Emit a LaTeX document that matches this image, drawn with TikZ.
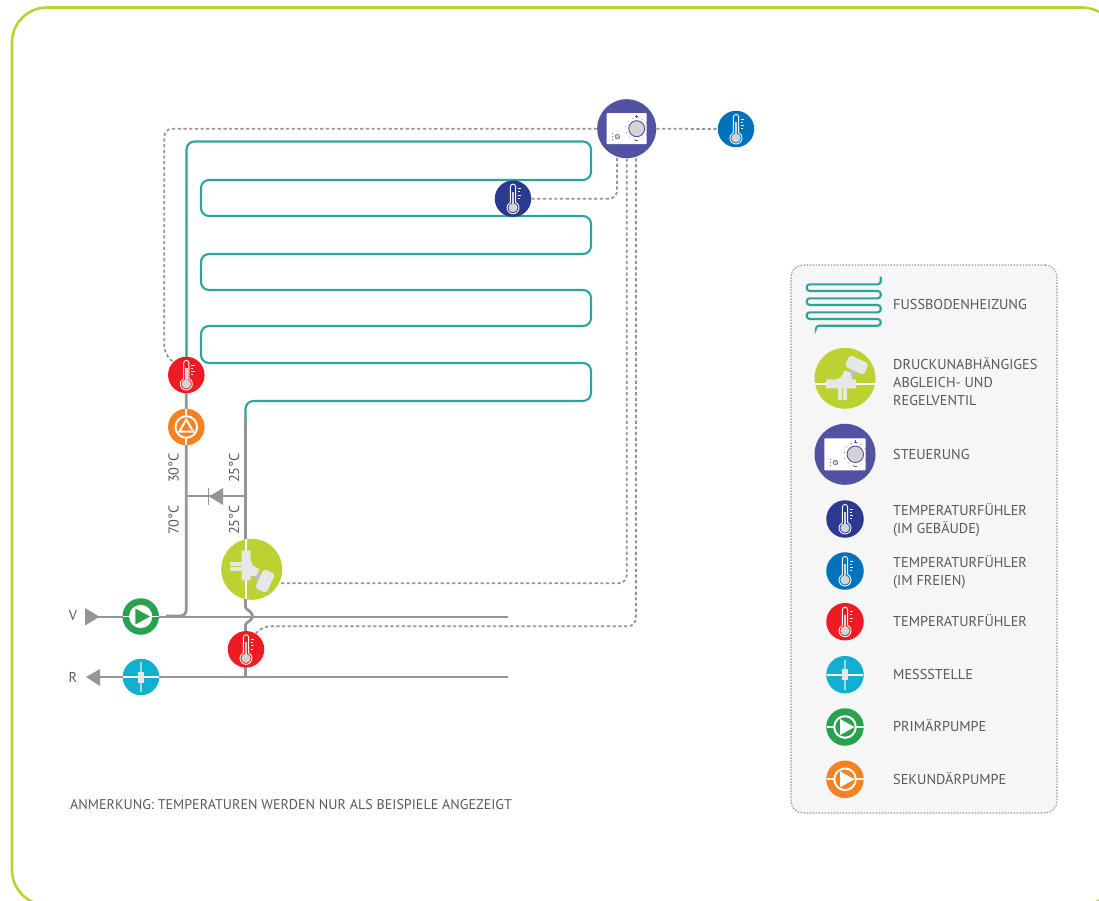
\documentclass[tikz,border=0pt]{standalone}
\usepackage{fontspec}
\setmainfont{PT Sans}
\definecolor{frameC}{HTML}{BDD232}
\definecolor{teal2}{HTML}{2BA59C}
\definecolor{pipeC}{HTML}{939598}
\definecolor{txtC}{HTML}{58595B}
\definecolor{ctrlC}{HTML}{5152A2}
\definecolor{inC}{HTML}{2B3990}
\definecolor{outC}{HTML}{0072BC}
\definecolor{redC}{HTML}{ED1C24}
\definecolor{messC}{HTML}{12B0D0}
\definecolor{greenC}{HTML}{2AA14C}
\definecolor{orangeC}{HTML}{F58220}
\definecolor{lgtC}{HTML}{E6E7E8}
\definecolor{midC}{HTML}{BCBEC0}
\definecolor{knobC}{HTML}{D1D3D4}
\tikzset{
  disc/.style={circle,inner sep=0pt,minimum size=#1,draw=none},
  pipe/.style={draw=pipeC,line width=2.8pt},
  heat/.style={draw=teal2,line width=2.1pt,rounded corners=8pt},
  sig/.style={draw=pipeC,line width=1.8pt,dash pattern=on 3.2pt off 2.5pt,rounded corners=8pt},
  lab/.style={text=txtC,font=\fontsize{14.3}{18}\selectfont,inner sep=0pt},
  legtxt/.style={lab,anchor=west,align=left},
  pics/thermo/.style={code={
    \draw[white,line width=.9pt,fill=#1] (-2.6,3.6) -- (-2.6,-12) arc[start angle=180,end angle=360,radius=2.6] -- (2.6,3.6) arc[start angle=-64.3,end angle=244.3,radius=6] -- cycle;
    \fill[knobC] (0,9) circle[radius=4.6];
    \fill[knobC] (-1.3,-7) rectangle (1.3,8);
    \foreach \yy/\xx in {-10/8.2,-7/7,-3.6/8.2,-0.3/7}{\draw[white,line width=.8pt] (5,\yy) -- (\xx,\yy);}
  }},
  pics/pump/.style={code={
    \draw[white,line width=2pt] (0,0) circle[radius=10.8];
    \draw[white,line width=1.8pt] (-18.5,0) -- (-10.5,0) (10.5,0) -- (18.5,0);
    \fill[white] (-5,-8) -- (9.5,0) -- (-5,8) -- cycle;
  }},
  pics/pumpm/.style={code={
    \fill[white] (0,0) circle[radius=11.6];
    \draw[white,line width=1.8pt] (-18,0) -- (18,0);
    \fill[#1] (-5.3,-8) -- (9.3,0) -- (-5.3,8) -- cycle;
  }},
  pics/pumpo/.style={code={
    \draw[white,line width=2pt] (0,0) circle[radius=10.8];
    \draw[white,line width=1.8pt] (-18,0) -- (-10.5,0) (10.5,0) -- (18,0);
    \fill[white] (-5.5,-8.6) -- (9.5,0) -- (-5.5,8.6) -- cycle;
    \fill[#1] (-3.6,-5) -- (5.4,0) -- (-3.6,5) -- cycle;
  }},
  pics/mess/.style={code={
    \draw[white,line width=1.8pt] (-18,0) -- (18,0);
    \draw[lgtC!70!messC,line width=1.5pt] (0,-15) -- (0,15);
    \fill[lgtC] (-2.6,-5.5) rectangle (2.6,5.5);
  }},
  pics/ctrlbox/.style={code={
    \fill[white,rounded corners=.6pt] (-20,-15.5) rectangle (20,15.5);
    \draw[ctrlC,line width=.9pt,fill=knobC] (10,0) circle[radius=8];
    \foreach \a in {100,130,160,190,220,250,280,-30,-60,30,60}{\fill[ctrlC] (\a:11) ++(10,0) circle[radius=.5];}
    \draw[ctrlC,line width=.6pt] (8.5,-12) -- (11.5,-12) (10,-13.5) -- (10,-10.5) (8.5,12) -- (11.5,12);
    \draw[ctrlC,line width=.5pt,fill=knobC] (-9.3,8) circle[radius=2.3];
    \foreach \yy in {5,8,11}{\fill[ctrlC] (-14,\yy) circle[radius=.6];}
  }},
  pics/valveparts/.style={code={
    \draw[white,line width=1.8pt] (-30,5.7) -- (30,5.7);
    \fill[midC] (-3.5,0) -- (10,-14) -- (15,-9) -- (2,4) -- cycle;
    \fill[lgtC] (-4,-1) -- (0,-8) -- (6,-5) -- (7,1) -- (11,1) -- (11,10) -- (-19,10) -- (-19,1) -- (-9,1) -- cycle;
    \fill[lgtC] (-7,10) rectangle (-3,21.5);
    \fill[lgtC] (-2,10) rectangle (2,21.5);
    \begin{scope}[shift={(11.7,-13.3)},rotate=-25]
      \fill[lgtC,rounded corners=3pt] (-10.5,-6.3) rectangle (10.5,6.3);
    \end{scope}
  }}
}
\begin{document}
\begin{tikzpicture}[x=1pt,y=-1pt]
\useasboundingbox (0,0) rectangle (1099,901);
% frame
\begin{scope}
  \clip (0,0) rectangle (1099,901);
  \draw[frameC,line width=2.6pt,rounded corners=35pt] (12,7.5) rectangle (1117,905);
\end{scope}
% legend panel
\node[draw=pipeC,fill=black!3.5,line width=1.1pt,dash pattern=on 1.5pt off 1.5pt,rounded corners=12pt,minimum width=266pt,minimum height=548pt,inner sep=0pt] (legend) at (924,539) {};

% heating coil
\coordinate (coilstart) at (186.5,360);
\coordinate (coilend) at (245.5,418);
\draw[heat] (coilstart) -- (186.5,141.5) -- (591,141.5) -- (591,180) -- (201,180) -- (201,216) -- (591,216) -- (591,254) -- (201,254) -- (201,290) -- (591,290) -- (591,326) -- (201,326) -- (201,363) -- (591,363) -- (591,401) -- (245.5,401) -- (coilend);
% pipes
\coordinate (sup) at (90,617);
\coordinate (supend) at (507.5,617);
\coordinate (ret) at (90,677);
\coordinate (retend) at (507.5,677);
\draw[pipe] (sup) -- (supend);
\draw[pipe] (ret) -- (retend);
\draw[pipe,rounded corners=6pt] (186.3,380) -- (186.3,616) -- (166,616);
\draw[pipe] (coilend) -- (245.5,608);
\draw[pipe] (245.5,607) .. controls (245.5,610) and (252.5,611) .. (252.5,616) .. controls (252.5,621) and (245.5,622) .. (245.5,625) -- (245.5,677);
\draw[pipe] (186.3,496) -- (245.5,496);
% non-return valve
\fill[pipeC] (209,496.5) -- (223,488) -- (223,505) -- cycle;
\draw[pipeC,line width=1.8pt] (208.5,488) -- (208.5,505);
% arrow ends
\fill[pipeC] (85,608) -- (99.5,616.8) -- (85,625.5) -- cycle;
\fill[pipeC] (86,677) -- (100,669) -- (100,686) -- cycle;

% circles in the plan
\node[disc=59pt,fill=ctrlC] (ctrl) at (626.7,128.7) {};
\pic at (ctrl) {ctrlbox};
\node[disc=36.5pt,fill=outC] (outs) at (736,129) {};
\pic at (outs) {thermo=outC};
\node[disc=36.5pt,fill=inC] (ins) at (513,198.7) {};
\pic at (ins) {thermo=inC};
\node[disc=36.5pt,fill=redC] (rs1) at (186.3,375) {};
\pic at (rs1) {thermo=redC};
\node[disc=36.5pt,fill=redC] (rs2) at (246,649.3) {};
\pic at (rs2) {thermo=redC};
\node[disc=36.5pt,fill=orangeC] (sec) at (186.3,427) {};
\pic[rotate=90] at (sec) {pumpo=orangeC};
\node[disc=36.5pt,fill=greenC] (pri) at (140.7,616.5) {};
\pic at (pri) {pumpm=greenC};
\node[disc=36.5pt,fill=messC] (msp) at (141,677) {};
\pic at (msp) {mess};
\node[disc=61pt,fill=frameC] (valve) at (251.7,569.3) {};
\pic[rotate=-90] at (valve) {valveparts};

% signal lines
\draw[sig] (ctrl.west) -- (164.3,128.7) -- (164.3,354) -- (rs1.135);
\draw[sig] (ctrl.east) -- (outs.west);
\draw[sig] (ins.east) -| (ctrl.-109);
\draw[sig] ([xshift=2pt]valve.-27) -| (ctrl.south);
\draw[sig] (rs2.58) -- (262,626.3) -| (ctrl.-72);

% labels in the plan
\node[lab,rotate=90] (t30) at (173.5,468) {30°C};
\node[lab,rotate=90] (t70) at (173.5,520) {70°C};
\node[lab,rotate=90] (t25a) at (234,468) {25°C};
\node[lab,rotate=90] (t25b) at (234,520) {25°C};
\node[lab] (lv) at (73,616) {V};
\node[lab] (lr) at (73,677) {R};
\node[lab,anchor=west,font=\fontsize{14.1}{18}\selectfont] (note) at (70,805) {ANMERKUNG: TEMPERATUREN WERDEN NUR ALS BEISPIELE ANGEZEIGT};

% legend symbols
\coordinate (lgcoil) at (880.7,276.7);
\draw[heat,rounded corners=3pt] (lgcoil) -- (880.7,284.3) -- (806.7,284.3) -- (806.7,291) -- (880.7,291) -- (880.7,298.3) -- (806.7,298.3) -- (806.7,305) -- (880.7,305) -- (880.7,312.3) -- (806.7,312.3) -- (806.7,319) -- (880.7,319) -- (880.7,325.7) -- (816,325.7) -- (816,328.5);
\node[disc=61pt,fill=frameC] (lgv) at (845,378.3) {};
\pic at (lgv) {valveparts};
\node[disc=61pt,fill=ctrlC] (lgc) at (845,454.3) {};
\pic[scale=1.03] at (lgc) {ctrlbox};
\node[disc=37.5pt,fill=inC] (lgi) at (845,519) {};
\pic at (lgi) {thermo=inC};
\node[disc=37.5pt,fill=outC] (lgo) at (845,571) {};
\pic at (lgo) {thermo=outC};
\node[disc=37.5pt,fill=redC] (lgr) at (845,621.7) {};
\pic at (lgr) {thermo=redC};
\node[disc=37.5pt,fill=messC] (lgm) at (845,674.7) {};
\pic at (lgm) {mess};
\node[disc=37.5pt,fill=greenC] (lgp) at (845,727) {};
\pic at (lgp) {pump};
\node[disc=37.5pt,fill=orangeC] (lgs) at (845,779.3) {};
\pic at (lgs) {pump};

% legend texts
\node[legtxt] (t1) at (893,304) {FUSSBODENHEIZUNG};
\node[legtxt] (t2) at (893,382) {DRUCKUNABHÄNGIGES\\ABGLEICH- UND\\REGELVENTIL};
\node[legtxt] (t3) at (893,454) {STEUERUNG};
\node[legtxt] (t4) at (893,520) {TEMPERATURFÜHLER\\(IM GEBÄUDE)};
\node[legtxt] (t5) at (893,572) {TEMPERATURFÜHLER\\(IM FREIEN)};
\node[legtxt] (t6) at (893,621) {TEMPERATURFÜHLER};
\node[legtxt] (t7) at (893,674) {MESSSTELLE};
\node[legtxt] (t8) at (893,726) {PRIMÄRPUMPE};
\node[legtxt] (t9) at (893,779) {SEKUNDÄRPUMPE};
\end{tikzpicture}
\end{document}
